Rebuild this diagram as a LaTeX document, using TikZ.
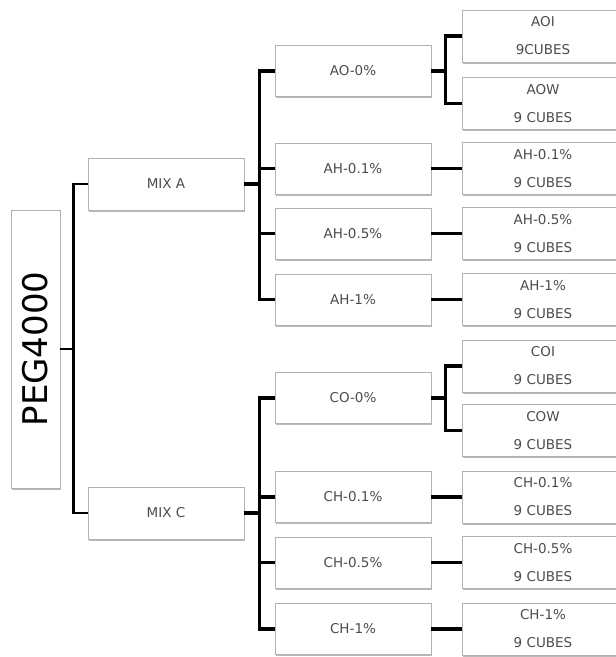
\documentclass[tikz,border=0pt]{standalone}
\usepackage{fontspec}
\setmainfont{DejaVu Sans}
\usetikzlibrary{shadows}
\begin{document}
\begin{tikzpicture}[x=1pt,y=-1pt,
        base/.style={draw=black!30,line width=0.8pt,fill=white,text=black!70,
            drop shadow={shadow xshift=1.2pt,shadow yshift=-1.8pt,fill=black!45,opacity=0.6},
            font=\fontsize{13.5}{28}\selectfont,align=center,inner sep=0pt},
        mixbox/.style={base,minimum width=156pt,minimum height=52pt},
        dosebox/.style={base,minimum width=156pt,minimum height=51pt},
        cubebox/.style={base,minimum width=162pt,minimum height=52pt},
        rootbox/.style={base,minimum width=278pt,minimum height=49pt,rotate=90,
            text=black,font=\fontsize{34}{38}\selectfont},
        trunk/.style={line width=2.6pt},
        branch/.style={line width=3.6pt}]
        \clip (0,0) rectangle (616,657);
        \fill[white] (0,0) rectangle (616,657);
        % Root
        \node[rootbox] (peg) at (35.5,349) {PEG4000};
        % Mixes
        \node[mixbox] (mixa) at (166,184) {MIX A};
        \node[mixbox] (mixc) at (166,513) {MIX C};
        % Doses of mix A
        \node[dosebox] (ao) at (353,71) {AO-0\%};
        \node[dosebox] (ah01) at (353,168.5) {AH-0.1\%};
        \node[dosebox] (ah05) at (353,233.5) {AH-0.5\%};
        \node[dosebox] (ah1) at (353,299.5) {AH-1\%};
        % Doses of mix C
        \node[dosebox] (co) at (353,398) {CO-0\%};
        \node[dosebox] (ch01) at (353,497) {CH-0.1\%};
        \node[dosebox] (ch05) at (353,562.5) {CH-0.5\%};
        \node[dosebox] (ch1) at (353,629) {CH-1\%};
        % Cube sets of mix A
        \node[cubebox] (aoi) at (543,36) {AOI\\9CUBES};
        \node[cubebox] (aow) at (543,103.5) {AOW\\9 CUBES};
        \node[cubebox] (ah01c) at (543,168.5) {AH-0.1\%\\9 CUBES};
        \node[cubebox] (ah05c) at (543,233.5) {AH-0.5\%\\9 CUBES};
        \node[cubebox] (ah1c) at (543,299.5) {AH-1\%\\9 CUBES};
        % Cube sets of mix C
        \node[cubebox] (coi) at (543,366) {COI\\9 CUBES};
        \node[cubebox] (cow) at (543,430.5) {COW\\9 CUBES};
        \node[cubebox] (ch01c) at (543,497) {CH-0.1\%\\9 CUBES};
        \node[cubebox] (ch05c) at (543,562.5) {CH-0.5\%\\9 CUBES};
        \node[cubebox] (ch1c) at (543,629) {CH-1\%\\9 CUBES};
        % Root to mixes
        \draw[trunk] (mixa.west) -- ++(-14,0) |- (peg.south);
        \draw[trunk] (mixc.west) -- ++(-14,0) |- (peg.south);
        % Mix A to doses
        \draw[branch] (ao.west) -- ++(-15,0) |- (mixa.east);
        \draw[branch] (ah01.west) -- ++(-15,0) |- (mixa.east);
        \draw[branch] (ah05.west) -- ++(-15,0) |- (mixa.east);
        \draw[branch] (ah1.west) -- ++(-15,0) |- (mixa.east);
        % Mix C to doses
        \draw[branch] (co.west) -- ++(-15,0) |- (mixc.east);
        \draw[branch] (ch01.west) -- ++(-15,0) |- (mixc.east);
        \draw[branch] (ch05.west) -- ++(-15,0) |- (mixc.east);
        \draw[branch] (ch1.west) -- ++(-15,0) |- (mixc.east);
        % Doses to cube sets
        \draw[branch] (aoi.west) -- ++(-16,0) |- (ao.east);
        \draw[branch] (aow.west) -- ++(-16,0) |- (ao.east);
        \draw[branch] (ah01.east) -- (ah01c.west);
        \draw[branch] (ah05.east) -- (ah05c.west);
        \draw[branch] (ah1.east) -- (ah1c.west);
        \draw[branch] (coi.west) -- ++(-16,0) |- (co.east);
        \draw[branch] (cow.west) -- ++(-16,0) |- (co.east);
        \draw[branch] (ch01.east) -- (ch01c.west);
        \draw[branch] (ch05.east) -- (ch05c.west);
        \draw[branch] (ch1.east) -- (ch1c.west);
\end{tikzpicture}
\end{document}
